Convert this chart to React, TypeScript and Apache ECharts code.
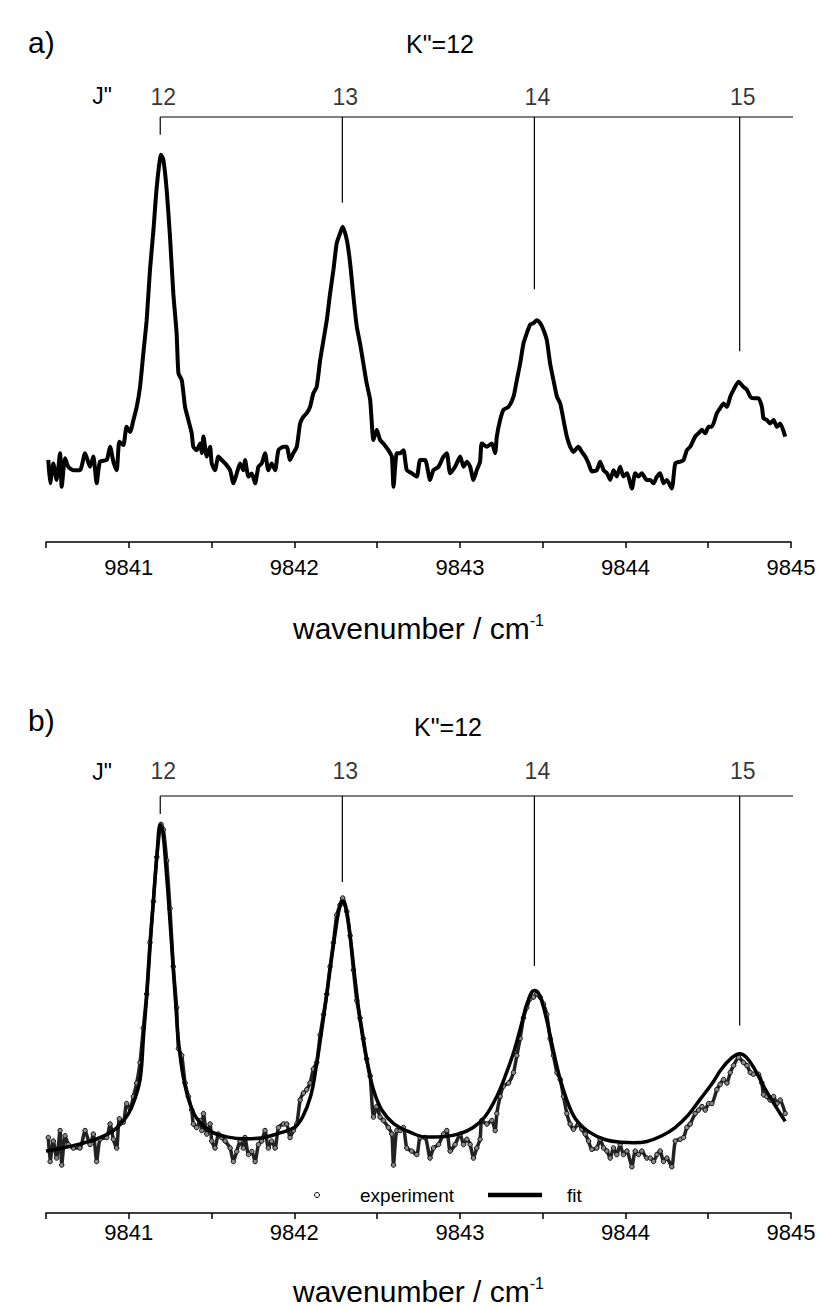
import React, { useEffect, useRef } from "react";
import * as echarts from "echarts";

// experimental spectrum (wavenumber / cm-1, intensity in arbitrary units)
const EXP_WN = [
  9840.514, 9840.525, 9840.544, 9840.564, 9840.585, 9840.595, 9840.615, 9840.635, 9840.665, 9840.705,
  9840.736, 9840.766, 9840.786, 9840.806, 9840.826, 9840.867, 9840.887, 9840.907, 9840.927, 9840.943,
  9840.967, 9840.987, 9841.008, 9841.028, 9841.048, 9841.068, 9841.088, 9841.108, 9841.128, 9841.149,
  9841.169, 9841.195, 9841.209, 9841.229, 9841.249, 9841.269, 9841.289, 9841.3, 9841.32, 9841.34,
  9841.36, 9841.38, 9841.39, 9841.41, 9841.431, 9841.441, 9841.451, 9841.471, 9841.491, 9841.501,
  9841.521, 9841.541, 9841.561, 9841.582, 9841.612, 9841.632, 9841.652, 9841.672, 9841.692, 9841.702,
  9841.723, 9841.743, 9841.763, 9841.783, 9841.803, 9841.823, 9841.843, 9841.863, 9841.884, 9841.904,
  9841.934, 9841.954, 9841.974, 9841.994, 9842.015, 9842.035, 9842.055, 9842.075, 9842.095, 9842.115,
  9842.135, 9842.156, 9842.176, 9842.196, 9842.216, 9842.236, 9842.256, 9842.276, 9842.292, 9842.317,
  9842.337, 9842.357, 9842.377, 9842.397, 9842.417, 9842.437, 9842.458, 9842.478, 9842.498, 9842.518,
  9842.538, 9842.568, 9842.589, 9842.599, 9842.619,
  9842.639, 9842.659, 9842.679, 9842.709, 9842.74, 9842.76, 9842.79, 9842.82, 9842.84, 9842.871,
  9842.901, 9842.921, 9842.941, 9842.971, 9843.002, 9843.022, 9843.042, 9843.062, 9843.082, 9843.102,
  9843.122, 9843.132, 9843.163, 9843.193, 9843.213, 9843.223, 9843.243, 9843.263, 9843.294, 9843.324,
  9843.344, 9843.364, 9843.384, 9843.404, 9843.424, 9843.445, 9843.465, 9843.485, 9843.505, 9843.525,
  9843.545, 9843.565, 9843.586, 9843.606, 9843.626, 9843.646, 9843.666, 9843.686, 9843.716, 9843.737,
  9843.757, 9843.777, 9843.797, 9843.827, 9843.847, 9843.868, 9843.888, 9843.908, 9843.928, 9843.948,
  9843.968, 9843.988, 9844.009, 9844.039, 9844.059, 9844.079, 9844.099, 9844.129, 9844.15, 9844.17,
  9844.19, 9844.21, 9844.23, 9844.25, 9844.28, 9844.301, 9844.331, 9844.351, 9844.371, 9844.391,
  9844.421, 9844.442, 9844.462, 9844.482, 9844.502, 9844.522, 9844.552, 9844.572, 9844.593, 9844.613,
  9844.633, 9844.653, 9844.683, 9844.713, 9844.734, 9844.754, 9844.774, 9844.804, 9844.824, 9844.834,
  9844.854, 9844.874, 9844.895, 9844.915, 9844.935, 9844.965,
];
const EXP_INT = [
  19.3, 13.8, 18.5, 14.6, 20.9, 13.0, 19.7, 17.7, 16.9, 16.9,
  20.9, 17.7, 20.1, 13.8, 18.9, 19.3, 22.4, 18.9, 16.9, 23.6,
  22.8, 27.1, 25.9, 28.7, 31.8, 36.5, 44.4, 52.2, 64.0, 73.4,
  83.6, 91.1, 89.9, 82.8, 71.8, 58.5, 49.1, 39.7, 38.1, 31.8,
  28.7, 25.6, 22.4, 21.6, 23.2, 20.9, 24.8, 20.1, 22.4, 18.5,
  16.9, 20.1, 19.3, 18.5, 16.9, 13.8, 16.1, 18.5, 16.9, 19.3,
  15.4, 16.1, 13.8, 17.7, 18.5, 20.9, 16.9, 18.5, 16.9, 21.6,
  22.4, 22.4, 19.3, 20.9, 22.4, 27.9, 29.5, 30.3, 31.8, 35.0,
  36.5, 42.8, 47.5, 52.2, 58.5, 64.0, 70.3, 72.6, 74.2, 71.1,
  65.6, 57.7, 50.7, 46.7, 42.0, 37.3, 33.4, 24.0, 26.4, 24.0,
  23.2, 21.6, 20.1, 13.0, 20.9,
  20.9, 21.6, 16.9, 16.2, 15.4, 19.3, 19.3, 14.6, 16.9, 17.7,
  20.1, 20.9, 16.2, 17.7, 20.1, 17.7, 18.9, 17.7, 14.6, 16.9,
  18.9, 23.2, 22.4, 23.2, 20.9, 24.8, 28.7, 31.1, 31.8, 34.2,
  38.1, 42.0, 46.7, 49.1, 51.1, 51.5, 52.2, 51.5, 49.9, 47.5,
  42.0, 38.1, 34.2, 32.6, 28.7, 24.8, 22.4, 21.2, 22.4, 21.2,
  20.1, 18.5, 16.6, 16.9, 18.9, 16.9, 16.2, 14.6, 16.9, 15.4,
  17.7, 15.4, 16.2, 12.6, 16.2, 15.4, 16.2, 14.6, 14.6, 13.8,
  15.4, 16.2, 13.8, 14.6, 12.6, 18.5, 18.9, 19.3, 21.6, 22.4,
  24.8, 25.6, 26.4, 25.6, 27.1, 27.1, 30.3, 31.5, 32.6, 31.8,
  34.2, 35.8, 37.7, 36.5, 35.8, 34.2, 33.8, 33.8, 31.8, 29.1,
  28.7, 27.9, 28.7, 27.1, 27.9, 24.8,
];

// fitted spectrum (panel b)
const FIT_WN = [
  9840.5, 9840.6, 9840.7, 9840.8, 9840.9, 9840.95, 9841.0, 9841.04, 9841.07, 9841.09,
  9841.11, 9841.13, 9841.15, 9841.17, 9841.19, 9841.205, 9841.225, 9841.245, 9841.265, 9841.285,
  9841.3, 9841.33, 9841.37, 9841.42, 9841.5, 9841.6, 9841.7, 9841.8, 9841.9, 9842.0,
  9842.05, 9842.1, 9842.13, 9842.16, 9842.19, 9842.22, 9842.25, 9842.27, 9842.29, 9842.31,
  9842.34, 9842.37, 9842.4, 9842.44, 9842.48, 9842.53, 9842.6, 9842.7, 9842.8, 9842.9,
  9843.0, 9843.08, 9843.15, 9843.22, 9843.28, 9843.33, 9843.37, 9843.41, 9843.45, 9843.48,
  9843.52, 9843.56, 9843.6, 9843.65, 9843.7, 9843.78, 9843.88, 9843.98, 9844.05, 9844.13,
  9844.22, 9844.3, 9844.38, 9844.45, 9844.52, 9844.58, 9844.64, 9844.69, 9844.73, 9844.78,
  9844.84, 9844.9, 9844.965,
];
const FIT_INT = [
  16.2, 16.9, 17.8, 18.9, 20.7, 22.4, 24.9, 28.5, 33, 43,
  52.5, 64, 74.5, 84, 91.0, 89.5, 81, 71, 60, 49,
  41.5, 33, 27, 23.2, 20.6, 19.4, 19.0, 19.2, 20.2, 21.6,
  24, 29, 35, 42.5, 50.5, 59, 67, 71.5, 73.5, 72,
  64.5, 54.5, 45.5, 36.5, 30, 25.5, 22.5, 20.5, 19.4, 19.5,
  20.2, 21.6, 24, 28.5, 34, 39.5, 45, 50.5, 53, 52,
  47, 40, 33.5, 27.5, 23.5, 20.6, 18.8, 18.2, 18.1, 18.4,
  19.7, 21.6, 24.5, 28, 31.5, 35, 37.5, 38.5, 37.7, 35,
  30.7, 26.9, 23.0,
];

// rotational assignments J'' (K''=12)
const J_LABELS = ["12", "13", "14", "15"];
const J_POS = [9841.19, 9842.29, 9843.45, 9844.69];
const BRACKET_END = 9845.04;
const J_LINE_END_A = [95.8, 79.8, 59.5, 44.9];
const J_LINE_END_B = [93.5, 77.9, 58.6, 45.0];

const X_MIN = 9840.5;
const X_MAX = 9845;
const X_STEP = 0.5;
const Y_RANGE_A = [0, 100];
const Y_RANGE_B = [2, 97.6];

const FONT = "'Liberation Sans', Arial, Helvetica, sans-serif";

function xAxisFor(gridIndex: number, labelMargin: number, nameGap: number) {
  return {
    type: "value",
    gridIndex,
    min: X_MIN,
    max: X_MAX,
    interval: X_STEP,
    axisLine: { show: true, lineStyle: { color: "#000", width: 1.5 } },
    axisTick: { show: true, length: 6, lineStyle: { color: "#000", width: 1.5 } },
    splitLine: { show: false },
    axisLabel: {
      margin: labelMargin,
      fontSize: 22,
      color: "#000",
      fontFamily: FONT,
      formatter: (v: number) => (Number.isInteger(v) ? String(v) : ""),
    },
    name: "wavenumber / cm{sup|-1}",
    nameLocation: "middle",
    nameGap,
    nameTextStyle: {
      fontSize: 30,
      color: "#000",
      fontFamily: FONT,
      rich: {
        sup: { fontSize: 16, color: "#000", fontFamily: FONT, verticalAlign: "top", lineHeight: 32 },
      },
    },
  };
}

function assignmentSeries(axis: number, top: number, ends: number[], labelDist: number) {
  const line = { color: "#000", width: 1.2 };
  const out: any[] = [
    {
      type: "line",
      xAxisIndex: axis,
      yAxisIndex: axis,
      data: [
        [J_POS[0], top],
        [BRACKET_END, top],
      ],
      symbol: "none",
      clip: false,
      silent: true,
      lineStyle: line,
      z: 1,
    },
  ];
  J_POS.forEach((x, i) => {
    out.push({
      type: "line",
      xAxisIndex: axis,
      yAxisIndex: axis,
      data: [
        [x, top],
        [x, ends[i]],
      ],
      symbol: "none",
      clip: false,
      silent: true,
      lineStyle: line,
      z: 1,
    });
  });
  out.push({
    type: "scatter",
    xAxisIndex: axis,
    yAxisIndex: axis,
    clip: false,
    silent: true,
    symbolSize: 1,
    itemStyle: { color: "rgba(0,0,0,0)" },
    data: J_POS.map((x, i) => ({ value: [x, top], label: { formatter: J_LABELS[i] } })),
    label: {
      show: true,
      position: "top",
      distance: labelDist,
      offset: [3, 0],
      fontSize: 23,
      color: "#000",
      fontFamily: FONT,
    },
  });
  return out;
}

const textEl = (text: string, x: number, y: number, size: number, align = "center") => ({
  type: "text",
  x,
  y,
  style: { text, fontSize: size, fontFamily: FONT, fill: "#000", align, verticalAlign: "middle" },
});

export default function App() {
  const ref = useRef<HTMLDivElement>(null);

  useEffect(() => {
    if (!ref.current) return;
    const chart = echarts.init(ref.current, undefined, { renderer: "svg" });
    const expData = EXP_WN.map((x, i) => [x, EXP_INT[i]]);
    const fitData = FIT_WN.map((x, i) => [x, FIT_INT[i]]);

    const option: any = {
      animation: false,
      backgroundColor: "#fff",
      textStyle: { fontFamily: FONT },
      grid: [
        { left: 46, right: 29, top: 117, height: 425 },
        { left: 46, right: 29, top: 796, height: 422 },
      ],
      xAxis: [xAxisFor(0, 14, 70), xAxisFor(1, 8, 62)],
      yAxis: [
        { type: "value", gridIndex: 0, min: Y_RANGE_A[0], max: Y_RANGE_A[1], show: false },
        { type: "value", gridIndex: 1, min: Y_RANGE_B[0], max: Y_RANGE_B[1], show: false },
      ],
      graphic: [
        textEl("a)", 28, 42, 30, "left"),
        textEl('K"=12', 440, 44, 25),
        textEl('J"', 102, 96, 23),
        textEl("b)", 28, 720, 30, "left"),
        textEl('K"=12', 448, 727, 25),
        textEl('J"', 102, 772, 23),
        // legend (panel b)
        {
          type: "circle",
          shape: { cx: 317, cy: 1195, r: 2.5 },
          style: { fill: "#fff", stroke: "#000", lineWidth: 1 },
        },
        textEl("experiment", 360, 1195, 19, "left"),
        {
          type: "line",
          shape: { x1: 488, y1: 1195, x2: 542, y2: 1195 },
          style: { stroke: "#000", lineWidth: 4.5 },
        },
        textEl("fit", 567, 1195, 19, "left"),
      ],
      series: [
        {
          name: "experiment (a)",
          type: "line",
          xAxisIndex: 0,
          yAxisIndex: 0,
          data: expData,
          symbol: "none",
          smooth: 0.2,
          lineStyle: { color: "#000", width: 4 },
          z: 3,
        },
        ...assignmentSeries(0, Y_RANGE_A[1], J_LINE_END_A, 8),
        {
          name: "experiment",
          type: "line",
          xAxisIndex: 1,
          yAxisIndex: 1,
          data: expData,
          symbol: "circle",
          symbolSize: 4.5,
          showSymbol: true,
          showAllSymbol: true,
          smooth: 0.2,
          lineStyle: { color: "#222", width: 3.5 },
          itemStyle: { color: "#888", borderColor: "#111", borderWidth: 1 },
          z: 3,
        },
        {
          name: "fit",
          type: "line",
          xAxisIndex: 1,
          yAxisIndex: 1,
          data: fitData,
          symbol: "none",
          smooth: 0.4,
          lineStyle: { color: "#000", width: 3.5 },
          itemStyle: { color: "#000" },
          z: 4,
        },
        ...assignmentSeries(1, Y_RANGE_B[1], J_LINE_END_B, 13),
      ],
    };
    chart.setOption(option);
    return () => chart.dispose();
  }, []);

  return (
    <div
      ref={ref}
      style={{ position: "absolute", left: 0, top: 0, width: 820, height: 1307, background: "#fff" }}
    />
  );
}
